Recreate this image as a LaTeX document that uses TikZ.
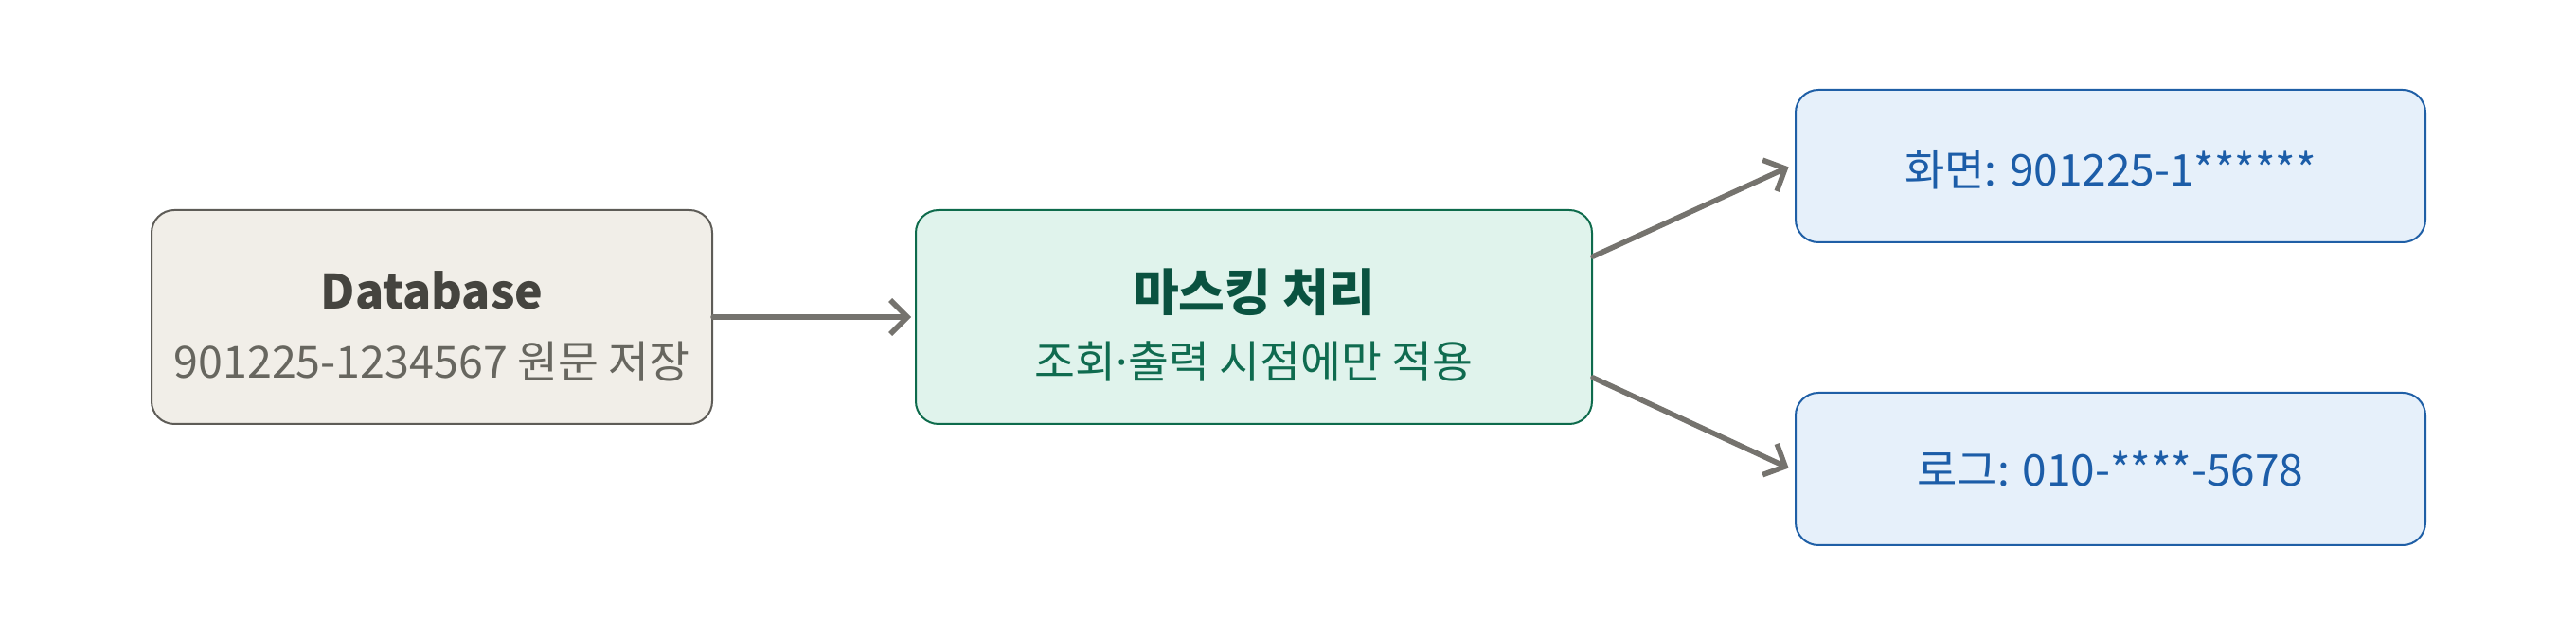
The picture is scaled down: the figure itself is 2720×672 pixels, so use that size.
\documentclass[tikz,border=0pt]{standalone}
\usepackage{fontspec}
\setmainfont{Noto Sans CJK KR}
\newfontfamily\dotfont{Noto Sans}
\usetikzlibrary{arrows.meta,calc}
\definecolor{dbfill}{HTML}{F1EEE8}
\definecolor{dbline}{HTML}{5E5C57}
\definecolor{dbtext}{HTML}{45443F}
\definecolor{dbsubtext}{HTML}{67665F}
\definecolor{mkfill}{HTML}{E0F3EC}
\definecolor{mkline}{HTML}{0E6B4C}
\definecolor{mktext}{HTML}{0A5240}
\definecolor{mksubtext}{HTML}{0F6B4F}
\definecolor{outfill}{HTML}{E6F0FA}
\definecolor{outline}{HTML}{1F5FA6}
\definecolor{outtext}{HTML}{1C5DA8}
\definecolor{arrowgray}{HTML}{75736E}
\tikzset{
  x=0.5pt, y=-0.5pt,
  box/.style={rectangle, rounded corners=12pt, line width=1pt, inner sep=0pt},
  dbbox/.style={box, draw=dbline, fill=dbfill, minimum width=296pt, minimum height=113pt},
  mkbox/.style={box, draw=mkline, fill=mkfill, minimum width=357pt, minimum height=113pt},
  outbox/.style={box, draw=outline, fill=outfill, minimum width=332.5pt, minimum height=80.5pt},
  txt/.style={inner sep=0pt, anchor=base},
  titletxt/.style={txt, font=\fontsize{25}{30}\selectfont\bfseries},
  kotitletxt/.style={txt, font=\fontsize{26.5}{30}\selectfont\bfseries},
  subtxt/.style={txt, font=\fontsize{23.3}{28}\selectfont},
  outtxt/.style={txt, font=\fontsize{23}{28}\selectfont},
  flow/.style={draw=arrowgray, line width=2.8pt, line cap=round,
    -{Straight Barb[length=9pt,width=18pt,line width=2.8pt]}},
}
\begin{document}
\begin{tikzpicture}
\useasboundingbox (0,0) rectangle (2720,672);
\node[dbbox] (db) at (456,335) {};
\node[titletxt, text=dbtext] (dbt) at (456,327) {Database};
\node[subtxt, text=dbsubtext] (dbs) at (456,400) {901225-1234567 원문 저장};

\node[mkbox] (mk) at (1324,335) {};
\node[kotitletxt, text=mktext] (mkt) at (1324,329) {마스킹 처리};
\node[subtxt, text=mksubtext] (mks) at (1324,400) {조회{\dotfont ·}출력 시점에만 적용};

\node[outbox] (scr) at (2228.5,175.5) {};
\node[outtxt, text=outtext] (scrt) at (2228.5,197) {화면: 901225-1******};

\node[outbox] (log) at (2228.5,495.5) {};
\node[outtxt, text=outtext] (logt) at (2228.5,514) {로그: 010-****-5678};

\coordinate (mkup) at ($(mk.east)+(0,32pt)$);
\coordinate (mkdn) at ($(mk.east)+(0,-32pt)$);
\draw[flow, shorten >=2pt] (db.east) -- (mk.west);
\draw[flow, shorten >=3.5pt] (mkup) -- ($(scr.west)+(0,1pt)$);
\draw[flow, shorten >=3.5pt] (mkdn) -- ($(log.west)+(0,-1pt)$);
\end{tikzpicture}
\end{document}
